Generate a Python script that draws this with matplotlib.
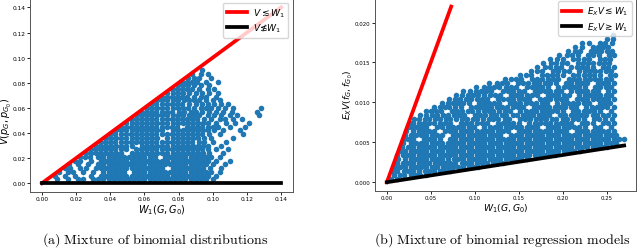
import numpy as np
import matplotlib
matplotlib.use("Agg")
import matplotlib.pyplot as plt

# ---------------- Panel (a): mixture of binomial distributions ----------------
# scatter rows: y (in 1e-3) and x positions (in 1e-3)
a_row_y = [3, 6, 9, 12, 15, 18, 21, 24, 27, 30, 33, 36, 39, 42, 45, 48, 51, 54,
           57, 60, 63, 66, 69, 72, 75, 78, 81, 84, 87, 90]
a_row_x = [
    [9, 15, 21, 24, 30, 33, 36, 39, 42, 45, 48, 51, 54, 57, 60, 63, 66, 69, 72, 75, 78, 81, 84, 87, 90, 93, 96, 100],
    [7.5, 13.5, 19.5, 28.5, 34.5, 37.5, 40.5, 43.5, 46.5, 49.5, 52.5, 55.5, 58.5, 61.5, 64.5, 67.5, 70.5, 73.5, 76.5, 79.5, 82.5, 85.5, 88.5, 91.5, 94.5, 97.5, 102],
    [10, 15, 18, 24, 30, 36, 39, 42, 45, 48, 54, 57, 60, 63, 66, 69, 72, 75, 78, 81, 84, 87, 90, 93, 96, 99, 104],
    [13.5, 16.5, 22.5, 25.5, 31.5, 34.5, 37.5, 40.5, 43.5, 46.5, 49.5, 52.5, 55.5, 58.5, 61.5, 64.5, 67.5, 70.5, 76.5, 79.5, 82.5, 85.5, 88.5, 91.5, 94.5, 98.5, 105],
    [16, 21, 27, 33, 36, 39, 42, 45, 48, 51, 54, 57, 60, 63, 66, 69, 72, 75, 78, 81, 84, 87, 90, 93, 96, 100, 107],
    [19.5, 22.5, 28.5, 34.5, 37.5, 40.5, 43.5, 46.5, 49.5, 52.5, 55.5, 58.5, 61.5, 64.5, 67.5, 70.5, 73.5, 76.5, 79.5, 82.5, 85.5, 88.5, 91.5, 94.5, 97.5, 102, 110],
    [22, 25, 28, 33, 36, 39, 42, 45, 48, 51, 54, 57, 60, 63, 66, 72, 75, 78, 81, 84, 87, 90, 93, 96, 99, 104],
    [25.5, 28.5, 31.5, 34.5, 37.5, 40.5, 43.5, 46.5, 52.5, 55.5, 58.5, 61.5, 64.5, 67.5, 70.5, 73.5, 76.5, 79.5, 82.5, 85.5, 88.5, 91.5, 94.5, 98, 106],
    [28, 31, 34, 37, 40, 43, 46, 49, 55, 58, 61, 64, 67, 70, 73, 76, 79, 82, 85, 88, 91, 94, 97, 102, 109],
    [31.5, 34.5, 37.5, 40.5, 43.5, 46.5, 49.5, 52.5, 58.5, 61.5, 64.5, 67.5, 70.5, 73.5, 76.5, 79.5, 82.5, 85.5, 88.5, 91.5, 94.5, 97.5, 105],
    [34, 37, 40, 43, 46, 49, 52, 55, 58, 61, 64, 67, 70, 73, 76, 79, 82, 85, 88, 92, 95, 100, 108],
    [37.5, 40.5, 43.5, 46.5, 49.5, 52.5, 55.5, 58.5, 61.5, 64.5, 67.5, 73.5, 76.5, 79.5, 82.5, 85.5, 88.5, 91.5, 95, 99, 112],
    [40, 43, 46, 49, 52, 55, 58, 61, 64, 67, 70, 73, 76, 79, 82, 85, 88, 91, 94, 98, 104, 118],
    [43.5, 46.5, 49.5, 52.5, 55.5, 58.5, 61.5, 64.5, 67.5, 70.5, 76.5, 79.5, 82.5, 85.5, 88.5, 91.5, 94.5, 97.5, 101, 106, 116],
    [46, 49, 52, 55, 58, 61, 64, 67, 70, 73, 76, 79, 85, 88, 91, 94, 97, 100, 103, 110, 119],
    [49.5, 52.5, 55.5, 58.5, 61.5, 64.5, 67.5, 70.5, 73.5, 76.5, 79.5, 82.5, 85.5, 88.5, 91.5, 94.5, 97.5, 102, 108, 113, 121],
    [52, 55, 58, 61, 64, 67, 70, 73, 76, 79, 82, 85, 88, 91, 95, 99, 104, 107, 112, 117],
    [55.5, 58.5, 61.5, 64.5, 67.5, 70.5, 73.5, 76.5, 79.5, 82.5, 86, 89, 92, 97, 101, 105, 110, 114, 127],
    [58, 61, 64, 67, 70, 73, 76, 80, 83, 87, 90, 94, 98, 102, 106, 111, 126],
    [61.5, 64.5, 67.5, 70.5, 73.5, 76.5, 79.5, 82.5, 85.5, 89, 93, 96, 99, 103, 107, 112, 128],
    [64, 67, 70, 73, 76, 79, 82, 86, 90, 94, 97, 101, 105, 109],
    [67.5, 70.5, 73.5, 76.5, 79.5, 83, 86, 89, 92, 96, 100, 104],
    [70, 73, 76, 79, 82, 85, 89, 93, 96, 102],
    [73.5, 76.5, 79.5, 82.5, 86, 90, 94, 98, 103],
    [76, 79, 82, 85, 88, 92, 97, 101],
    [79.5, 82.5, 85.5, 89, 93, 98],
    [82, 85, 88, 91, 96, 103],
    [85.5, 89, 92, 99],
    [88, 93, 97],
    [94],
]
a_line_x = [0.0, 0.14]
a_upper_y = [0.0, 0.14]
a_lower_y = [0.0, 0.0]
a_xticks = [0.00, 0.02, 0.04, 0.06, 0.08, 0.10, 0.12, 0.14]
a_yticks = [0.00, 0.02, 0.04, 0.06, 0.08, 0.10, 0.12, 0.14]

# ---------------- Panel (b): mixture of binomial regression models ----------------
# scatter rows: y (in 1e-4) and x positions (in 1e-3)
b_row_y = [4, 9, 14, 19, 24, 29, 34, 39, 44, 49, 54, 59, 64, 69, 74, 79, 84, 89,
           94, 99, 104, 109, 114, 119, 124, 129, 134, 139, 144, 149, 154, 159,
           164, 169, 174, 179, 184]
b_row_x = [
    [5, 11],
    [8, 15, 20, 27, 33, 38, 45],
    [6, 12, 19, 24, 30, 36, 43, 48, 54, 61, 66, 72],
    [9, 15, 21, 28, 33, 39, 45, 51, 57, 64, 69, 75, 81, 87, 94, 99, 104],
    [11, 18, 24, 30, 36, 42, 48, 55, 60, 66, 72, 78, 85, 90, 96, 102, 108, 114, 121, 126, 132],
    [13, 21, 27, 33, 39, 45, 51, 57, 63, 69, 76, 81, 87, 93, 99, 105, 111, 117, 123, 129, 135, 141, 147, 153, 160],
    [12, 18, 24, 30, 37, 42, 48, 54, 60, 66, 72, 78, 84, 90, 96, 102, 108, 114, 120, 126, 132, 138, 144, 150, 156, 162, 168, 174, 180, 186, 191],
    [15, 21, 27, 33, 39, 45, 51, 57, 63, 69, 75, 81, 87, 93, 99, 105, 111, 117, 123, 129, 135, 141, 147, 153, 159, 165, 171, 177, 183, 189, 195, 201, 207, 213, 220],
    [17, 24, 30, 36, 42, 48, 54, 60, 66, 72, 78, 84, 90, 96, 102, 108, 114, 120, 126, 132, 138, 144, 150, 156, 162, 168, 174, 180, 186, 192, 198, 204, 210, 216, 222, 228, 234, 240, 246, 251],
    [18, 27, 33, 39, 45, 51, 57, 63, 69, 75, 81, 87, 93, 99, 105, 111, 117, 123, 129, 135, 141, 147, 153, 159, 165, 171, 177, 183, 189, 195, 201, 207, 213, 219, 225, 231, 237, 243, 249, 255, 261],
    [20, 24, 30, 42, 48, 54, 60, 72, 78, 84, 90, 96, 102, 108, 114, 120, 126, 132, 138, 144, 150, 156, 162, 168, 174, 180, 186, 192, 198, 204, 210, 216, 222, 228, 234, 240, 246, 252, 258, 264, 270],
    [21, 27, 33, 39, 45, 51, 57, 63, 75, 81, 87, 93, 99, 105, 111, 117, 123, 129, 141, 147, 153, 159, 165, 171, 177, 183, 189, 195, 201, 207, 213, 219, 225, 231, 237, 243, 249, 255, 261],
    [22, 30, 36, 42, 48, 54, 66, 72, 78, 84, 90, 96, 102, 108, 114, 120, 126, 132, 138, 150, 156, 162, 168, 174, 180, 186, 192, 198, 204, 216, 222, 228, 234, 240, 246, 252, 258],
    [24, 27, 33, 39, 45, 57, 63, 69, 75, 81, 87, 93, 99, 111, 117, 123, 129, 135, 141, 147, 153, 159, 165, 171, 183, 189, 195, 201, 207, 213, 219, 225, 237, 243, 255],
    [26, 30, 36, 42, 48, 54, 60, 66, 72, 84, 90, 96, 102, 108, 114, 126, 132, 138, 144, 150, 162, 168, 174, 180, 186, 192, 198, 204, 210, 222, 228, 234, 246, 252, 258],
    [31, 37, 43, 48, 55, 61, 67, 72, 79, 85, 91, 98, 103, 109, 116, 121, 127, 134, 139, 152, 157, 163, 170, 175, 181, 188, 193, 200, 205, 212, 218, 224, 236, 241, 248, 256],
    [38, 45, 51, 57, 64, 69, 76, 82, 88, 100, 106, 112, 118, 124, 131, 136, 143, 148, 155, 161, 166, 173, 179, 185, 197, 203, 209, 215, 221, 227, 234, 239, 246, 252, 259],
    [45, 50, 56, 62, 74, 80, 86, 92, 97, 104, 110, 116, 121, 128, 134, 140, 152, 158, 164, 170, 176, 182, 188, 194, 200, 212, 218, 224, 230, 236, 243, 255],
    [54, 60, 66, 71, 78, 84, 96, 101, 107, 113, 119, 125, 131, 137, 143, 149, 155, 167, 173, 179, 185, 191, 197, 203, 209, 215, 227, 233, 239, 245, 251, 258],
    [63, 69, 75, 81, 87, 93, 105, 110, 116, 122, 128, 140, 146, 152, 158, 164, 170, 176, 182, 194, 200, 206, 212, 218, 224, 230, 242, 248, 254],
    [71, 77, 83, 90, 96, 102, 108, 114, 126, 132, 138, 144, 150, 156, 162, 174, 180, 186, 192, 198, 204, 216, 222, 228, 234, 240, 246, 252, 258],
    [79, 86, 92, 98, 104, 110, 117, 123, 129, 141, 147, 153, 159, 165, 171, 183, 189, 195, 201, 207, 219, 225, 231, 237, 243, 249, 255],
    [87, 95, 101, 107, 113, 119, 132, 138, 144, 150, 156, 168, 174, 180, 186, 192, 198, 210, 216, 222, 228, 234, 240, 252, 258],
    [101, 110, 116, 122, 128, 135, 141, 147, 159, 165, 171, 177, 183, 195, 201, 207, 213, 219, 225, 237, 243, 249, 255],
    [116, 125, 131, 137, 149, 155, 161, 167, 173, 180, 186, 192, 204, 210, 216, 222, 228, 240, 246, 252, 258],
    [134, 141, 147, 153, 165, 171, 177, 183, 189, 195, 207, 213, 219, 225, 231, 237, 243, 249, 255],
    [151, 158, 164, 176, 182, 188, 194, 200, 212, 218, 224, 230, 236, 242, 254, 260],
    [164, 171, 177, 189, 195, 201, 207, 219, 225, 231, 237, 243, 249, 255],
    [171, 180, 186, 192, 198, 210, 216, 222, 228, 234, 246, 252, 258],
    [178, 187, 193, 199, 205, 217, 223, 229, 235, 241, 247, 253],
    [186, 194, 200, 212, 218, 224, 230, 242, 248, 254],
    [196, 205, 211, 217, 229, 235, 241, 253, 259],
    [206, 214, 220, 232, 238, 244, 250, 256],
    [214, 222, 234, 240, 246, 252],
    [222, 230, 242, 248, 256],
    [251, 257],
    [257],
]
b_upper_x = [0.0, 0.0732]
b_upper_y = [0.0, 0.022]
b_lower_x = [0.0, 0.27]
b_lower_y = [0.0, 0.0046]
b_xticks = [0.00, 0.05, 0.10, 0.15, 0.20, 0.25]
b_yticks = [0.000, 0.005, 0.010, 0.015, 0.020]


def rows_to_xy(row_y, row_x, xscale, yscale):
    xs, ys = [], []
    for yv, xl in zip(row_y, row_x):
        xs.extend(xl)
        ys.extend([yv] * len(xl))
    return np.array(xs) * xscale, np.array(ys) * yscale


ax_pts, ay_pts = rows_to_xy(a_row_y, a_row_x, 1e-3, 1e-3)
bx_pts, by_pts = rows_to_xy(b_row_y, b_row_x, 1e-3, 1e-4)

blue = "#1f77b4"
fig = plt.figure(figsize=(6.4, 2.51), dpi=100)

# panel a
axa = fig.add_axes([30 / 640, 58 / 251, 263 / 640, 194 / 251])
axa.scatter(ax_pts, ay_pts, s=16, color=blue, linewidths=0, zorder=2)
axa.plot(a_line_x, a_upper_y, color="red", lw=2.7, label=r"$V\lesssim W_1$", zorder=3)
axa.plot(a_line_x, a_lower_y, color="black", lw=2.7, label=r"$V≴W_1$", zorder=3)
axa.set_xlim(-0.007, 0.147)
axa.set_ylim(-0.007, 0.1475)
axa.set_xticks(a_xticks)
axa.set_yticks(a_yticks)
axa.tick_params(labelsize=4.2, length=2, width=0.6, pad=1.2)
axa.set_xlabel(r"$W_1(G,G_0)$", fontsize=7, labelpad=0.5)
axa.set_ylabel(r"$V(p_G,p_{G_0})$", fontsize=7)
axa.yaxis.set_label_coords(-0.09, 0.37)
axa.yaxis.label.set_va("center")
axa.legend(loc="upper right", fontsize=6.6, handlelength=2.2, borderpad=0.4,
           labelspacing=0.3, handletextpad=0.6, framealpha=0.8)

# panel b
axb = fig.add_axes([375 / 640, 59 / 251, 261 / 640, 194 / 251])
axb.scatter(bx_pts, by_pts, s=16, color=blue, linewidths=0, zorder=2)
axb.plot(b_upper_x, b_upper_y, color="red", lw=2.7, label=r"$E_XV\lesssim W_1$", zorder=3)
axb.plot(b_lower_x, b_lower_y, color="black", lw=2.7, label=r"$E_XV\gtrsim W_1$", zorder=3)
axb.set_xlim(-0.0135, 0.2835)
axb.set_ylim(-0.0011, 0.0232)
axb.set_xticks(b_xticks)
axb.set_yticks(b_yticks)
axb.tick_params(labelsize=3.9, length=2, width=0.6, pad=1.2)
axb.set_xlabel(r"$W_1(G,G_0)$", fontsize=6.7, labelpad=0.5)
axb.set_ylabel(r"$E_XV(f_G,f_{G_0})$", fontsize=6.7)
axb.yaxis.set_label_coords(-0.102, 0.5)
axb.yaxis.label.set_va("center")
axb.legend(loc="upper right", fontsize=6.4, handlelength=2.2, borderpad=0.4,
           labelspacing=0.3, handletextpad=0.6, framealpha=0.8)

for a in (axa, axb):
    for sp in a.spines.values():
        sp.set_linewidth(0.7)
        sp.set_color("#555555")

fig.text(155 / 640, 1 - 240 / 251, r"$\mathrm{(a)\ Mixture\ of\ binomial\ distributions}$",
         math_fontfamily="cm", fontsize=10.1, ha="center", va="center")
fig.text(502 / 640, 1 - 240 / 251, r"$\mathrm{(b)\ Mixture\ of\ binomial\ regression\ models}$",
         math_fontfamily="cm", fontsize=10.1, ha="center", va="center")

fig.savefig("out.png", dpi=100)
